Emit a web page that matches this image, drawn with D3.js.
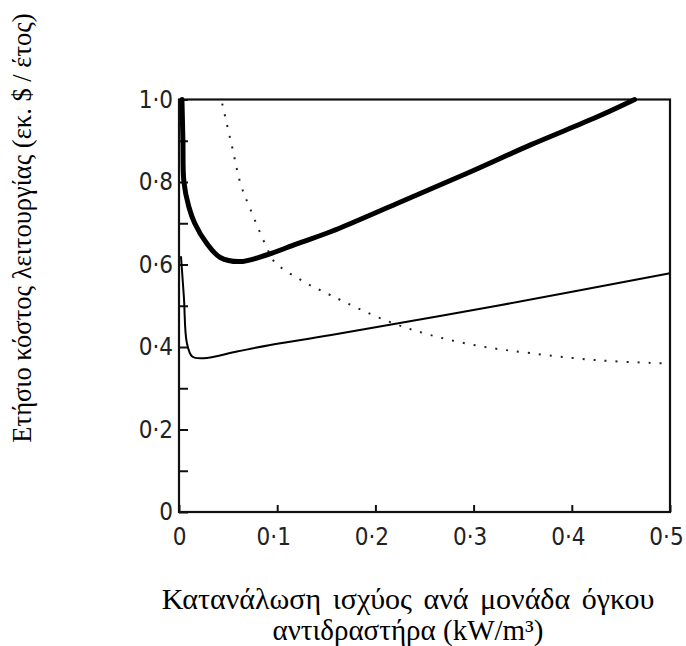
<!DOCTYPE html>
<html>
<head>
<meta charset="utf-8">
<script src="https://cdn.jsdelivr.net/npm/d3@7"></script>
<style>
  body { margin: 0; background: #fff; }
</style>
</head>
<body>
<div id="chart-container"></div>
<script>
// Chart data: [power per unit volume, annual cost]
const totalCost = [
  [0.003, 1.0], [0.004, 0.9], [0.005, 0.80], [0.010, 0.74], [0.016, 0.70],
  [0.028, 0.652], [0.042, 0.617], [0.062, 0.607], [0.089, 0.623], [0.12, 0.65],
  [0.155, 0.68], [0.222, 0.748], [0.297, 0.825], [0.358, 0.89], [0.426, 0.958],
  [0.464, 1.0]
];
const lowerCost = [
  [0.002, 0.62], [0.005, 0.52], [0.008, 0.41], [0.0135, 0.377], [0.025, 0.373],
  [0.059, 0.389], [0.093, 0.405], [0.155, 0.429], [0.324, 0.50], [0.5, 0.579]
];
const dottedCost = [
  [0.044, 0.99], [0.054, 0.886], [0.063, 0.793], [0.073, 0.732], [0.089, 0.643],
  [0.097, 0.607], [0.124, 0.5625], [0.154, 0.526], [0.21, 0.465], [0.256, 0.429],
  [0.307, 0.402], [0.358, 0.385], [0.426, 0.368], [0.497, 0.36]
];
const xTicks = [0, 0.1, 0.2, 0.3, 0.4, 0.5];
const yTicks = [0, 0.1, 0.2, 0.3, 0.4, 0.5, 0.6, 0.7, 0.8, 0.9, 1.0];
const xTitle = ["Κατανάλωση ισχύος ανά μονάδα όγκου", "αντιδραστήρα (kW/m³)"];
const yTitle = "Ετήσιο κόστος λειτουργίας  (εκ. $ / έτος)";

// Dimensions
const width = 686;
const height = 646;
const marginLeft = 179;
const marginRight = 16;
const marginTop = 99.5;
const marginBottom = 134;

const x = d3.scaleLinear()
    .domain([0, 0.5])
    .range([marginLeft, width - marginRight]);

const y = d3.scaleLinear()
    .domain([0, 1])
    .range([height - marginBottom, marginTop]);

const fmt = d => d === 0 ? "0" : d.toFixed(1).replace(".", "\u00B7");

const svg = d3.create("svg")
    .attr("width", width)
    .attr("height", height)
    .style("background", "#fff");

const tickFont = "'Liberation Sans Narrow', 'DejaVu Sans Condensed', sans-serif";

// x-axis (ticks pointing inward)
const gx = svg.append("g")
    .attr("transform", `translate(0,${y(0)})`)
    .call(d3.axisBottom(x).tickValues(xTicks).tickSize(-7).tickPadding(16).tickFormat(fmt));
gx.selectAll(".tick text").attr("dx", d => d === 0 ? 0 : -4);

// y-axis (ticks pointing inward, labels every 0.2)
const gy = svg.append("g")
    .attr("transform", `translate(${x(0)},0)`)
    .call(d3.axisLeft(y).tickValues(yTicks).tickSize(-9).tickPadding(6)
      .tickFormat(d => Math.round(d * 10) % 2 === 0 ? fmt(d) : ""));

[gx, gy].forEach(g => {
  g.select(".domain").remove();
  g.selectAll(".tick line").attr("stroke", "#111").attr("stroke-width", 2);
  g.selectAll(".tick text")
    .attr("fill", "#222")
    .style("font-family", tickFont)
    .style("font-size", "24px");
});

// frame
svg.append("rect")
    .attr("x", x(0))
    .attr("y", y(1))
    .attr("width", x(0.5) - x(0))
    .attr("height", y(0) - y(1))
    .attr("fill", "none")
    .attr("stroke", "#111")
    .attr("stroke-width", 2.2);

const line = d3.line()
    .x(d => x(d[0]))
    .y(d => y(d[1]))
    .curve(d3.curveCatmullRom.alpha(0.5));

svg.append("path")
    .datum(dottedCost)
    .attr("d", line)
    .attr("fill", "none")
    .attr("stroke", "#222")
    .attr("stroke-width", 2)
    .attr("stroke-dasharray", "2 9");

svg.append("path")
    .datum(lowerCost)
    .attr("d", line)
    .attr("fill", "none")
    .attr("stroke", "#000")
    .attr("stroke-width", 2);

svg.append("path")
    .datum(totalCost)
    .attr("d", line)
    .attr("fill", "none")
    .attr("stroke", "#000")
    .attr("stroke-width", 5)
    .attr("stroke-linecap", "round");

// axis titles
const titleFont = "'Liberation Serif', 'Times New Roman', serif";
svg.append("text")
    .attr("x", 408)
    .attr("y", 609)
    .attr("text-anchor", "middle")
    .style("font-family", titleFont)
    .style("font-size", "30px")
    .style("word-spacing", "4px")
    .attr("fill", "#000")
    .text(xTitle[0]);

svg.append("text")
    .attr("x", 408)
    .attr("y", 640)
    .attr("text-anchor", "middle")
    .style("font-family", titleFont)
    .style("font-size", "29px")
    .attr("fill", "#000")
    .text(xTitle[1]);

svg.append("text")
    .attr("transform", `translate(31,228) rotate(-90)`)
    .attr("text-anchor", "middle")
    .style("font-family", titleFont)
    .style("font-size", "26.5px")
    .attr("fill", "#000")
    .text(yTitle);

d3.select("#chart-container").append(() => svg.node());
</script>
</body>
</html>
